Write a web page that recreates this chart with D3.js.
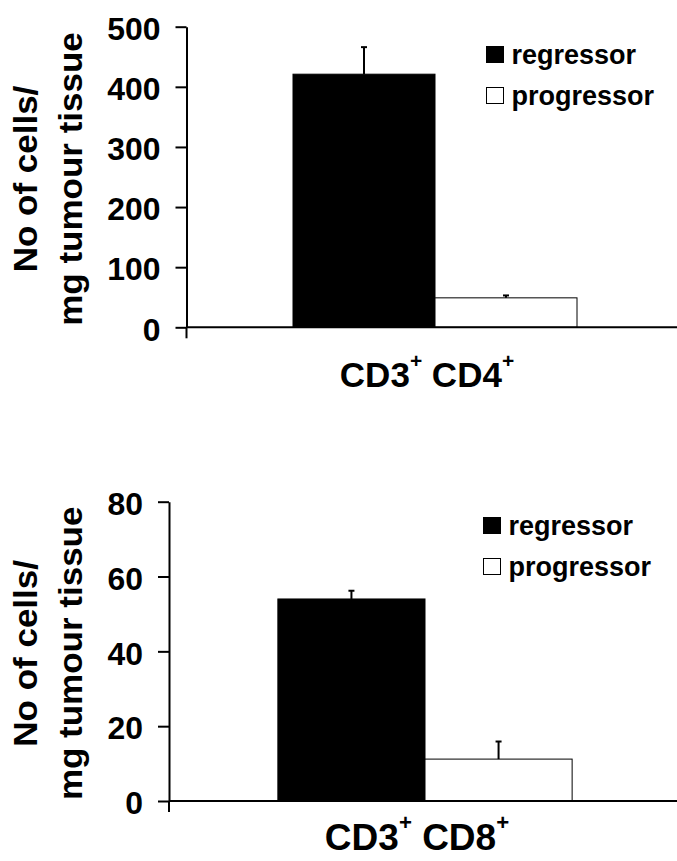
<!DOCTYPE html>
<html>
<head>
<meta charset="utf-8">
<script src="https://cdn.jsdelivr.net/npm/d3@7"></script>
<style>
  html, body { margin: 0; padding: 0; background: #fff; }
  svg { display: block; }
  text { font-family: "Liberation Sans", Arial, sans-serif; font-weight: bold; fill: #000; }
</style>
</head>
<body>
<svg id="chart" width="677" height="861"></svg>
<script>
// ---- data ----
const series = ["regressor", "progressor"];
const seriesColors = ["#000000", "#ffffff"];
const yTitleLines = ["No of cells/", "mg tumour tissue"];

const categoriesTop = ["CD3+ CD4+"];
const valuesTop = [421, 49];
const errorsTop = [45, 4];
const ticksTop = [0, 100, 200, 300, 400, 500];

const categoriesBottom = ["CD3+ CD8+"];
const valuesBottom = [54, 11.2];
const errorsBottom = [2.2, 4.7];
const ticksBottom = [0, 20, 40, 60, 80];

const svg = d3.select("#chart");
const W = 677;

function drawPanel(p) {
  const g = svg.append("g");
  const y = d3.scaleLinear().domain([0, p.yMax]).range([p.y0, p.yTop]);
  const x0 = d3.scaleBand().domain(p.categories)
    .range([p.axisX, p.axisX + p.plotW]).paddingInner(0).paddingOuter(p.padOuter);
  const x1 = d3.scaleBand().domain(series).range([0, x0.bandwidth()]).padding(0);

  const rows = series.map((s, i) => ({ s, v: p.values[i], e: p.errors[i], c: seriesColors[i] }));
  const cat = p.categories[0];

  // bars
  g.selectAll("rect.bar").data(rows).join("rect")
    .attr("class", "bar")
    .attr("x", d => x0(cat) + x1(d.s))
    .attr("y", d => y(d.v))
    .attr("width", x1.bandwidth())
    .attr("height", d => y(0) - y(d.v))
    .attr("fill", d => d.c)
    .attr("stroke", "#000")
    .attr("stroke-width", 1);

  // error bars (upper only)
  const eg = g.selectAll("g.err").data(rows).join("g").attr("class", "err");
  eg.append("line")
    .attr("x1", d => x0(cat) + x1(d.s) + x1.bandwidth() / 2)
    .attr("x2", d => x0(cat) + x1(d.s) + x1.bandwidth() / 2)
    .attr("y1", d => y(d.v))
    .attr("y2", d => y(d.v + d.e))
    .attr("stroke", "#000").attr("stroke-width", 2);
  eg.append("line")
    .attr("x1", d => x0(cat) + x1(d.s) + x1.bandwidth() / 2 - 3)
    .attr("x2", d => x0(cat) + x1(d.s) + x1.bandwidth() / 2 + 3)
    .attr("y1", d => y(d.v + d.e))
    .attr("y2", d => y(d.v + d.e))
    .attr("stroke", "#000").attr("stroke-width", 2);

  // x axis baseline
  g.append("line")
    .attr("x1", p.axisX).attr("x2", W)
    .attr("y1", y(0)).attr("y2", y(0))
    .attr("stroke", "#000").attr("stroke-width", 2);

  // y axis
  const ax = g.append("g")
    .attr("transform", `translate(${p.axisX},0)`)
    .call(d3.axisLeft(y).tickValues(p.ticks).tickSize(11).tickSizeOuter(0).tickPadding(15));
  ax.select(".domain").attr("stroke", "#000").attr("stroke-width", 2);
  ax.selectAll(".tick line").attr("stroke", "#000").attr("stroke-width", 2);
  ax.selectAll(".tick text")
    .style("font-family", '"Liberation Sans", Arial, sans-serif')
    .style("font-weight", "bold")
    .style("font-size", "31px")
    .attr("fill", "#000")
    .attr("dy", "0.41em")
    .attr("x", -26 / p.tickSx)
    .attr("transform", `scale(${p.tickSx},1)`);
  // axis extension below zero
  g.append("line")
    .attr("x1", p.axisX).attr("x2", p.axisX)
    .attr("y1", y(0)).attr("y2", y(0) + 11)
    .attr("stroke", "#000").attr("stroke-width", 2);

  // y title (two rotated lines)
  const cy = (p.y0 + p.yTop) / 2 + 2;
  yTitleLines.forEach((t, i) => {
    g.append("text")
      .attr("transform", `translate(${p.titleX[i]},${cy}) scale(0.95,1) rotate(-90)`)
      .attr("text-anchor", "middle")
      .style("font-size", "35px")
      .text(t);
  });

  // category label with superscripts
  const lab = g.append("text")
    .attr("x", x0(cat) + x0.bandwidth() / 2 - 8)
    .attr("y", p.labelY)
    .attr("text-anchor", "middle")
    .style("font-size", p.labelSize + "px");
  const rise = 0.54 * p.labelSize;
  cat.split(" ").forEach((tok, i) => {
    const base = tok.replace("+", "");
    lab.append("tspan").text((i > 0 ? " " : "") + base)
      .attr("dy", i > 0 ? rise : 0);
    lab.append("tspan").text("+")
      .attr("dy", -rise)
      .style("font-size", (p.labelSize * 0.6) + "px");
  });

  // legend
  series.forEach((s, i) => {
    const ly = p.legendY + i * 41;
    g.append("rect")
      .attr("x", p.legendX).attr("y", ly)
      .attr("width", 17).attr("height", 16)
      .attr("fill", seriesColors[i])
      .attr("stroke", "#000").attr("stroke-width", 1);
    g.append("text")
      .attr("x", p.legendX + 25).attr("y", ly + 17)
      .style("font-size", "27px")
      .text(s);
  });
}

drawPanel({
  categories: categoriesTop, values: valuesTop, errors: errorsTop, ticks: ticksTop,
  yMax: 500, y0: 327.3, yTop: 26.7, axisX: 186.5, plotW: 497, padOuter: 0.375,
  titleX: [36.7, 81.7], labelY: 386.5, labelSize: 35, legendX: 486.5, legendY: 46.5, tickSx: 1.03
});

drawPanel({
  categories: categoriesBottom, values: valuesBottom, errors: errorsBottom, ticks: ticksBottom,
  yMax: 80, y0: 801, yTop: 501.7, axisX: 169, plotW: 512, padOuter: 0.37,
  titleX: [36.7, 81.7], labelY: 850, labelSize: 37, legendX: 483.5, legendY: 517.5, tickSx: 1.03
});
</script>
</body>
</html>
